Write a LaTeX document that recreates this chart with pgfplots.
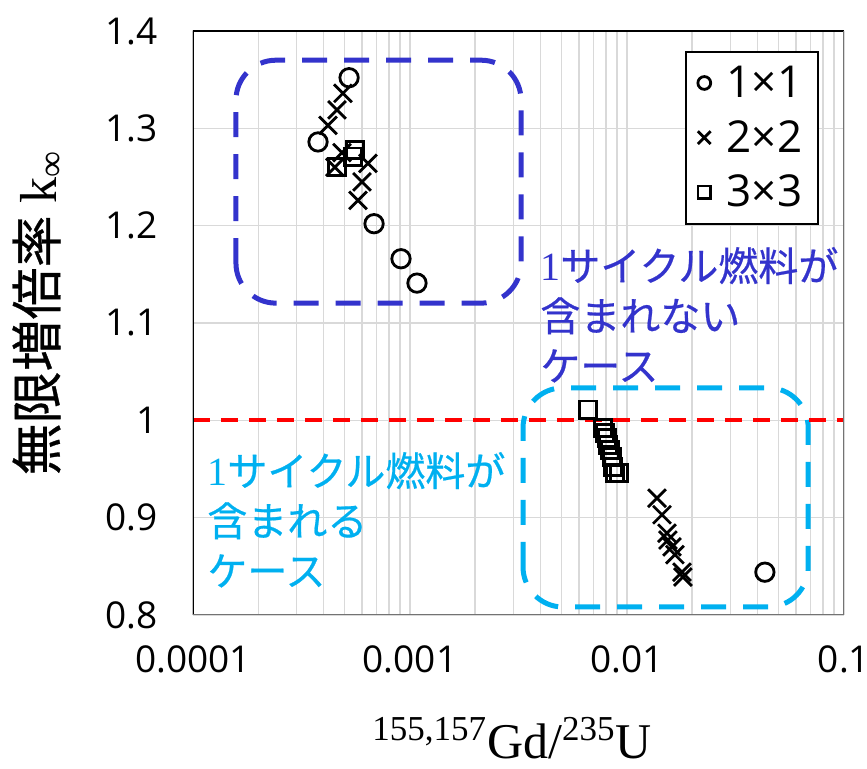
\documentclass[border=0pt]{standalone}
\usepackage{fontspec}
\setmainfont{Open Sans}
\newfontfamily\jp[FakeBold=0.5]{Noto Sans CJK JP}
\newfontfamily\jpb[FakeBold=0.6]{Noto Sans CJK JP}
\newfontfamily\tms{Liberation Serif}
\usepackage{pgfplots}
\pgfplotsset{compat=1.18}
\definecolor{kblue}{RGB}{51,51,204}
\definecolor{kcyan}{RGB}{0,176,240}
\definecolor{gridc}{RGB}{217,217,217}
\definecolor{kred}{RGB}{255,0,0}
\begin{document}
\begin{tikzpicture}
\begin{axis}[
  scale only axis, width=325.5pt, height=292pt,
  xmode=log, xmin=1e-4, xmax=0.1, ymin=0.8, ymax=1.4,
  xtick={0.0001,0.001,0.01,0.1}, xticklabels={0.0001,0.001,0.01,0.1},
  minor xtick={2e-4,3e-4,4e-4,5e-4,6e-4,7e-4,8e-4,9e-4,2e-3,3e-3,4e-3,5e-3,6e-3,7e-3,8e-3,9e-3,2e-2,3e-2,4e-2,5e-2,6e-2,7e-2,8e-2,9e-2},
  ytick={0.8,0.9,1,1.1,1.2,1.3,1.4}, yticklabels={0.8,0.9,1,1.1,1.2,1.3,1.4},
  xmajorgrids, xminorgrids, ymajorgrids,
  grid style={gridc, line width=0.8pt}, minor grid style={gridc, line width=0.8pt},
  major tick length=0pt, minor tick length=0pt,
  axis line style={draw=none},
  tick label style={font=\fontsize{18.5}{22}\selectfont},
  /pgf/number format/assume math mode=true,
  xticklabel style={yshift=-12pt},
  yticklabel style={xshift=-14pt},
  xlabel={\tms\fontsize{25}{28}\selectfont\textsuperscript{155,157}Gd/\textsuperscript{235}U},
  xlabel style={at={(axis description cs:0.49,0)}, anchor=base, yshift=-72pt},
  ylabel={\jpb\fontsize{26}{28}\selectfont 無限増倍率 {\tms k\textsubscript{∞}}},
  ylabel style={at={(axis description cs:-0.238,0.517)}, anchor=center},
  legend style={at={(rel axis cs:0.9616,0.9658)}, anchor=north east,
    font=\fontsize{22}{26}\selectfont, draw=black, line width=0.8pt,
    row sep=6pt, inner xsep=6pt, inner ysep=5pt},
  legend cell align=left,
]
% boxes
\draw[kblue, line width=2.5pt, dash pattern=on 12.5pt off 8.5pt, rounded corners=20pt]
  (rel axis cs:0.066,0.534) rectangle (rel axis cs:0.504,0.950);
\draw[kcyan, line width=2.5pt, dash pattern=on 12.5pt off 8.5pt, rounded corners=20pt]
  (rel axis cs:0.507,0.0137) rectangle (rel axis cs:0.945,0.389);
% red line at 1
\addplot[forget plot, kred, line width=2pt, dash pattern=on 8.5pt off 5.5pt] coordinates {(1e-4,1) (0.1,1)};
% data
\addplot[only marks, mark=o, mark size=4.6pt, mark options={black, line width=1.4pt},
  legend image post style={mark size=3.2pt}] coordinates {
(5.24e-4,1.352) (3.77e-4,1.286) (6.83e-4,1.202) (9.09e-4,1.166) (1.077e-3,1.141) (0.0432,0.844)
};
\addlegendentry{\hspace{6pt}1×1}
\addplot[only marks, mark=x, mark size=6.3pt, mark options={black, line width=1.4pt},
  legend image post style={mark size=4.5pt}] coordinates {
(4.91e-4,1.336) (4.61e-4,1.319) (4.19e-4,1.303) (4.86e-4,1.275) (4.51e-4,1.260)
(6.40e-4,1.264) (6.01e-4,1.245) (5.76e-4,1.226)
(0.01375,0.920) (0.01450,0.903) (0.01529,0.884) (0.01545,0.877) (0.01612,0.870)
(0.01663,0.862) (0.01792,0.844) (0.01811,0.839)
};
\addlegendentry{\hspace{6pt}2×2}
\addplot[only marks, mark=square, mark size=4.3pt, mark options={black, line width=1.4pt},
  legend image post style={mark size=3.2pt}] coordinates {
(4.61e-4,1.260) (5.46e-4,1.271) (5.58e-4,1.278)
(6.61e-3,1.011) (7.75e-3,0.992) (7.92e-3,0.987) (8.09e-3,0.982) (8.17e-3,0.975)
(8.35e-3,0.970) (8.53e-3,0.962) (8.62e-3,0.952) (8.81e-3,0.946) (9.19e-3,0.946)
};
\addlegendentry{\hspace{6pt}3×3}
% frame
\draw[black, line width=1.2pt] (rel axis cs:0,0) -- (rel axis cs:0,1) -- (rel axis cs:1,1);
\draw[black!55, line width=1.2pt] (rel axis cs:0,0) -- (rel axis cs:1,0) -- (rel axis cs:1,1);
% annotations
\node[anchor=west, align=left, inner sep=0pt, text=kblue, font=\jp\fontsize{20}{25}\selectfont]
  at (rel axis cs:0.533,0.514) {{\tms 1}サイクル燃料が\\含まれない\\ケース};
\node[anchor=west, align=left, inner sep=0pt, text=kcyan, font=\jp\fontsize{20}{25}\selectfont]
  at (rel axis cs:0.0215,0.163) {{\tms 1}サイクル燃料が\\含まれる\\ケース};
\end{axis}
\pgfresetboundingbox
\path[use as bounding box] (current axis.south west) ++(-96.5pt,-77pt) rectangle ++(433.5pt,384.5pt);
\end{tikzpicture}
\end{document}
